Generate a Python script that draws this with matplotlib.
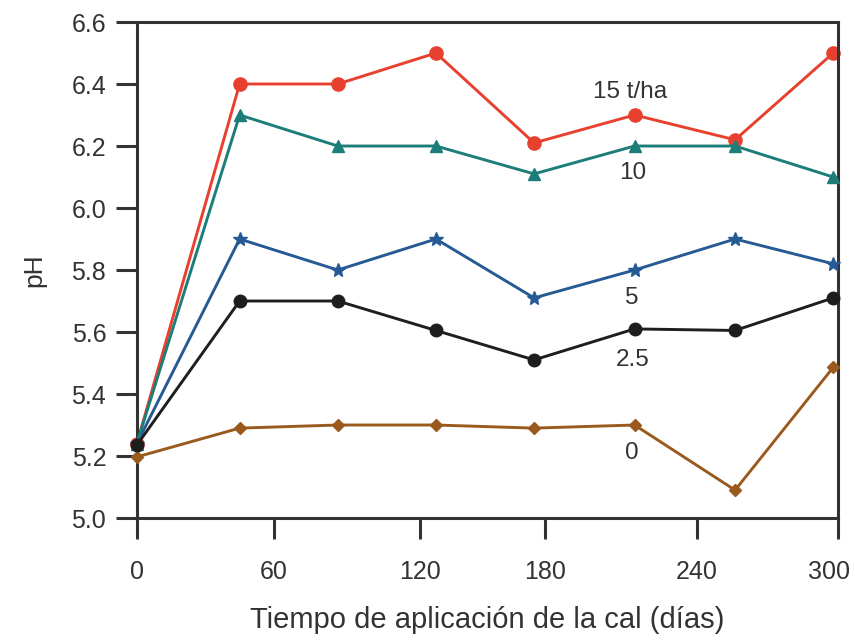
import matplotlib
matplotlib.use("Agg")
import matplotlib.pyplot as plt
import matplotlib.transforms as mtransforms

plt.rcParams['font.family'] = ['Liberation Sans', 'DejaVu Sans']

days = [0, 44, 86, 128, 170, 213, 256, 298]
ph_15 = [5.24, 6.40, 6.40, 6.50, 6.21, 6.30, 6.22, 6.50]
ph_10 = [5.24, 6.30, 6.20, 6.20, 6.11, 6.20, 6.20, 6.10]
ph_5 = [5.24, 5.90, 5.80, 5.90, 5.71, 5.80, 5.90, 5.82]
ph_25 = [5.235, 5.70, 5.70, 5.605, 5.51, 5.61, 5.605, 5.71]
ph_0 = [5.197, 5.29, 5.30, 5.30, 5.29, 5.30, 5.09, 5.486]

series_labels = ["15 t/ha", "10", "5", "2.5", "0"]
label_x = [211, 212, 212, 212, 212]
label_y = [6.375, 6.112, 5.71, 5.51, 5.21]

xtick_pos = [0, 58.6, 121, 174.6, 239.7, 300]
xtick_labels = ["0", "60", "120", "180", "240", "300"]
ytick_vals = [5.0, 5.2, 5.4, 5.6, 5.8, 6.0, 6.2, 6.4, 6.6]

fig = plt.figure(figsize=(8.55, 6.4), dpi=100)
ax = fig.add_axes([0.160, 0.1906, 0.820, 0.775])

lw = 2.1
ax.plot(days, ph_0, color='#9a5a1e', lw=lw, marker='D', ms=6.5, zorder=3, clip_on=False)
ax.plot(days, ph_25, color='#1e1e1e', lw=lw, marker='o', ms=9, zorder=4, clip_on=False)
ax.plot(days, ph_5, color='#265a94', lw=lw, marker='*', ms=10, zorder=3, clip_on=False)
ax.plot(days, ph_10, color='#1d7d78', lw=lw, marker='^', ms=8, zorder=3, clip_on=False)
ax.plot(days, ph_15, color='#e8402f', lw=lw, marker='o', ms=9.5, zorder=2, clip_on=False)

for t, x, y in zip(series_labels, label_x, label_y):
    ax.text(x, y, t, ha='center', va='center', fontsize=17.5, color='#333333')

ax.set_xlim(0, 300)
ax.set_ylim(5.0, 6.6)
ax.set_xticks(xtick_pos)
ax.set_xticklabels(xtick_labels)
ax.set_yticks(ytick_vals)
ax.set_yticklabels([f"{v:.1f}" for v in ytick_vals])

for s in ax.spines.values():
    s.set_linewidth(2.2)
    s.set_color('#333333')
ax.tick_params(direction='out', length=15, width=2.2, color='#333333',
               labelsize=18, labelcolor='#333333')
ax.tick_params(axis='y', pad=7)
ax.tick_params(axis='x', pad=15)

# nudge the last x tick label inward so it stays inside the figure
last = ax.get_xticklabels()[-1]
last.set_transform(last.get_transform() +
                   mtransforms.ScaledTranslation(-9 / 100, 0, fig.dpi_scale_trans))

ax.set_xlabel("Tiempo de aplicación de la cal (días)", fontsize=21, color='#333333', labelpad=16)
ax.set_ylabel("pH", fontsize=19, color='#333333', labelpad=18)

fig.savefig("out.png", dpi=100)
